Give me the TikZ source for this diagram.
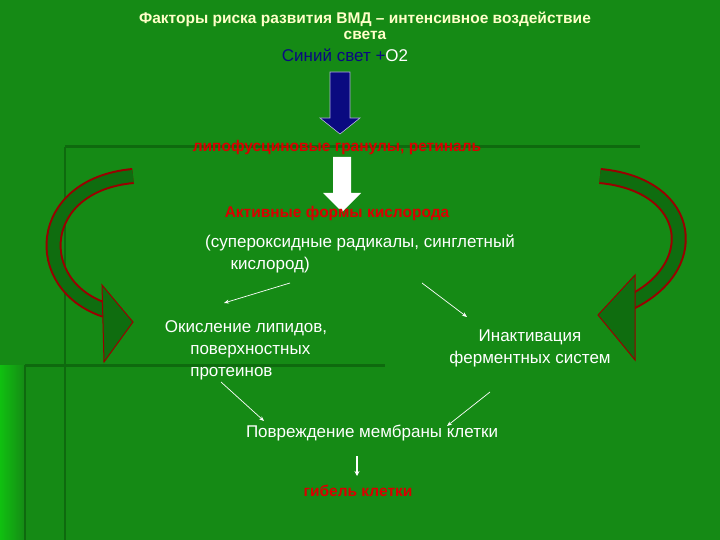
\documentclass[tikz,border=0pt]{standalone}
\usepackage{fontspec}
\setmainfont{Liberation Sans}
\usetikzlibrary{arrows.meta}
\begin{document}
\begin{tikzpicture}[x=1pt,y=-1pt,
  wt/.style={text=white,font=\fontsize{17}{22}\selectfont,align=center,inner sep=0},
  rt/.style={text=red!85!black,font=\bfseries\fontsize{15.5}{18}\selectfont,inner sep=0},
  conn/.style={draw=white,line width=0.7pt,-{Stealth[length=5pt,width=4pt]}}]
\definecolor{bg}{HTML}{158A15}
\definecolor{dk}{HTML}{0E6A0E}
\definecolor{hl}{HTML}{10C010}
\definecolor{navy}{HTML}{0A0A80}
\definecolor{ttl}{HTML}{FFFFC8}
\useasboundingbox (0,0) rectangle (720,540);
\fill[bg] (0,0) rectangle (720,540);
\shade[left color=hl,right color=bg] (0,365) rectangle (25,540);
\draw[dk,line width=3pt] (65,147) -- (640,147);
\draw[dk,line width=3pt] (25,365) -- (385,365);
\draw[dk,line width=1.5pt] (65,147) -- (65,540);
\draw[dk,line width=1.5pt] (25,365) -- (25,540);
% curved arrows
\draw[red!60!black,line width=16pt] (133,176) .. controls (35,185) and (30,285) .. (105,310);
\draw[dk!90!bg,line width=12pt] (133,176) .. controls (35,185) and (30,285) .. (105,310);
\fill[dk!90!bg,draw=red!60!black,line width=1pt] (133,322) -- (102,285) -- (104,362) -- cycle;
\draw[red!60!black,line width=16pt] (600,176) .. controls (695,185) and (705,270) .. (625,305);
\draw[dk!90!bg,line width=12pt] (600,176) .. controls (695,185) and (705,270) .. (625,305);
\fill[dk!90!bg,draw=red!60!black,line width=1pt] (598,315) -- (635,275) -- (635,360) -- cycle;
% title
\node[text=ttl,font=\bfseries\fontsize{15.5}{16}\selectfont,align=center,inner sep=0] (title) at (365,26)
  {Факторы риска развития ВМД – интенсивное воздействие\\света};
\node[inner sep=0,font=\fontsize{17}{20}\selectfont] (blue) at (345,55) {\textcolor{navy}{Синий свет +}\textcolor{white}{O2}};
% blue arrow
\fill[navy,draw=white!70!navy,line width=0.6pt] (330,72) -- (350,72) -- (350,118) -- (360,118) -- (340,134) -- (320,118) -- (330,118) -- cycle;
\node[rt] (lipo) at (337,147) {липофусциновые гранулы, ретиналь};
% white arrow
\fill[white] (333,157) -- (351,157) -- (351,193) -- (361,193) -- (342,212) -- (323,193) -- (333,193) -- cycle;
\node[rt] (afk) at (337,213) {Активные формы кислорода};
\node[wt,align=left] (sup) at (360,254) {(суперoксидные радикалы, синглетный\\\hspace*{1.5em}кислород)};
\node[wt,align=left] (ok) at (246,350) {Окисление липидов,\\\hspace*{1.5em}поверхностных\\\hspace*{1.5em}протеинов};
\node[wt] (ina) at (530,348) {Инактивация\\ферментных систем};
\node[wt] (pov) at (372,433) {Повреждение мембраны клетки};
\node[rt] (gib) at (358,491) {гибель клетки};
\coordinate (a1) at (290,283); \coordinate (a2) at (224,303);
\coordinate (b1) at (422,283); \coordinate (b2) at (467,317);
\coordinate (c1) at (221,382); \coordinate (c2) at (264,421);
\coordinate (d1) at (490,392); \coordinate (d2) at (447,426);
\draw[conn] (a1) -- (a2);
\draw[conn] (b1) -- (b2);
\draw[conn] (c1) -- (c2);
\draw[conn] (d1) -- (d2);
\draw[white,line width=1.5pt,-{Stealth[length=5pt,width=5pt]}] (357,456) -- (357,476);
\end{tikzpicture}
\end{document}
